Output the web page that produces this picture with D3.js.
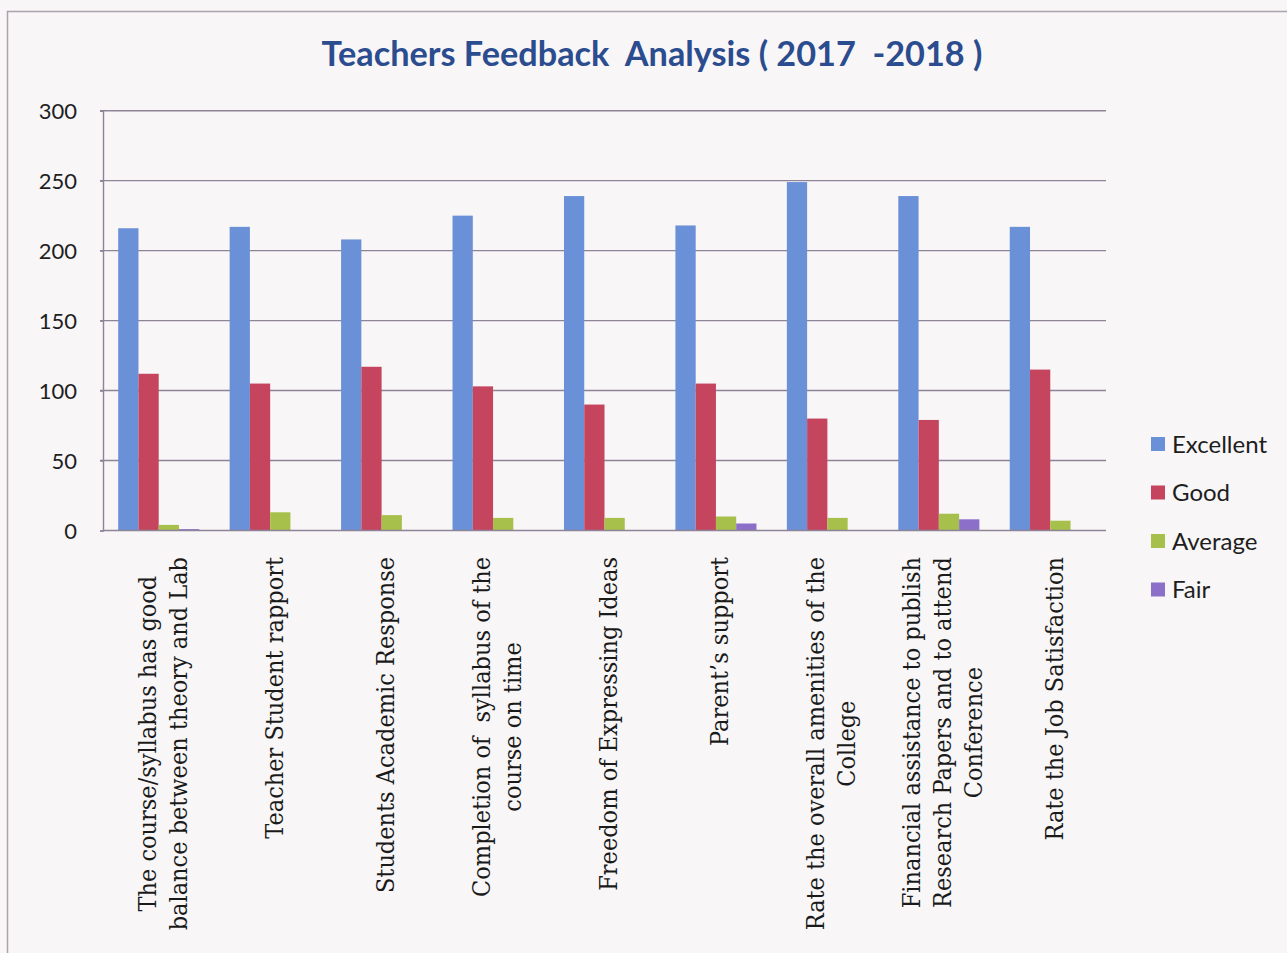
<!DOCTYPE html>
<html>
<head>
<meta charset="utf-8">
<script src="https://cdn.jsdelivr.net/npm/d3@7"></script>
<style>
  html, body { margin: 0; padding: 0; background: #f8f6f7; }
  svg { display: block; }
</style>
</head>
<body>
<svg id="chart" width="1287" height="953"></svg>
<script>
// ---- data ----
const title = "Teachers Feedback  Analysis ( 2017  -2018 )";
const categories = [
  "The course/syllabus has good\nbalance between theory and Lab",
  "Teacher Student rapport",
  "Students Academic Response",
  "Completion of  syllabus of the\ncourse on time",
  "Freedom of Expressing Ideas",
  "Parent\u2019s support",
  "Rate the overall amenities of the\nCollege",
  "Financial assistance to publish\nResearch Papers and to attend\nConference",
  "Rate the Job Satisfaction"
];
const seriesNames = ["Excellent", "Good", "Average", "Fair"];
const excellent = [216, 217, 208, 225, 239, 218, 249, 239, 217];
const good      = [112, 105, 117, 103, 90, 105, 80, 79, 115];
const average   = [4, 13, 11, 9, 9, 10, 9, 12, 7];
const fair      = [1, 0, 0, 0, 0, 5, 0, 8, 0];
const yTicks = [0, 50, 100, 150, 200, 250, 300];
const colors = ["#6a90d8", "#c5455f", "#a7c04b", "#8b6fc9"];

const seriesValues = [excellent, good, average, fair];

(function () {
// ---- layout ----
const svg = d3.select("#chart");
const pLeft = 103, pRight = 1106, pTop = 110.7, pBottom = 530.5;

// outer frame
svg.append("rect").attr("x", 7.5).attr("y", 11.5).attr("width", 1300).attr("height", 1000)
  .attr("fill", "none").attr("stroke", "#a9a3ab").attr("stroke-width", 1.5);

const x0 = d3.scaleBand().domain(d3.range(categories.length)).range([pLeft, pRight]).padding(0);
const barW = x0.bandwidth() / 5.5;
const x1 = d3.scaleBand().domain(seriesNames)
  .range([barW * 0.75, x0.bandwidth() - barW * 0.75]).padding(0);
const y = d3.scaleLinear().domain([0, 300]).range([pBottom, pTop]);

// gridlines
svg.append("g")
  .selectAll("line").data(yTicks.filter(d => d > 0)).join("line")
  .attr("x1", pLeft - 3).attr("x2", pRight)
  .attr("y1", d => y(d)).attr("y2", d => y(d))
  .attr("stroke", "#8d8597").attr("stroke-width", 1.4);

// bars
const groups = svg.append("g").selectAll("g").data(categories).join("g")
  .attr("transform", (d, i) => `translate(${x0(i)},0)`);
groups.selectAll("rect")
  .data((d, i) => seriesNames.map((s, k) => ({ s, k, v: seriesValues[k][i] })))
  .join("rect")
  .attr("x", d => x1(d.s))
  .attr("width", x1.bandwidth())
  .attr("y", d => y(d.v))
  .attr("height", d => y(0) - y(d.v))
  .attr("fill", d => colors[d.k]);

// y axis
const yAxis = d3.axisLeft(y).tickValues(yTicks).tickSize(3).tickPadding(24);
const ya = svg.append("g").attr("transform", `translate(${pLeft},0)`).call(yAxis);
ya.select(".domain").attr("stroke", "#8d8597").attr("stroke-width", 1.4);
ya.selectAll(".tick line").attr("stroke", "#8d8597").attr("stroke-width", 1.4);
ya.selectAll(".tick text")
  .attr("font-family", "Lato, 'Open Sans', sans-serif")
  .attr("font-size", 22).attr("fill", "#1e1e1e").attr("x", -26).attr("dy", "0.35em");

// x baseline
svg.append("line").attr("x1", pLeft).attr("x2", pRight).attr("y1", y(0)).attr("y2", y(0))
  .attr("stroke", "#8d8597").attr("stroke-width", 1.4);

// category labels (rotated)
const labelTop = 557, lineGap = 31;
categories.forEach((c, i) => {
  const lines = c.split("\n");
  const cx = x0(i) + x0.bandwidth() / 2 + 4;
  const g = svg.append("g").attr("transform", `translate(${cx},${labelTop}) rotate(-90)`);
  const texts = lines.map((ln, j) => g.append("text")
    .attr("font-family", "'DejaVu Serif Condensed', 'DejaVu Serif', serif")
    .attr("font-stretch", "condensed")
    .attr("font-size", 25)
    .attr("fill", "#1a1a1a")
    .style("white-space", "pre")
    .attr("text-anchor", "middle")
    .attr("dominant-baseline", "central")
    .attr("y", (j - (lines.length - 1) / 2) * lineGap)
    .text(ln));
  const W = d3.max(texts, t => t.node().getComputedTextLength());
  texts.forEach(t => t.attr("x", -W / 2));
});

// title
const tt = svg.append("text")
  .attr("x", 652).attr("y", 66)
  .attr("text-anchor", "middle")
  .attr("font-family", "Lato, 'Open Sans', sans-serif")
  .attr("font-weight", "bold")
  .attr("font-size", 30)
  .attr("fill", "#2b4c8e")
  .style("white-space", "pre")
  .text(title);
const tw = tt.node().getComputedTextLength();
tt.attr("font-size", 30 * 661 / tw);

// legend
const lg = svg.append("g").attr("transform", "translate(1151,0)");
seriesNames.forEach((s, k) => {
  const cy = 444 + k * 48.5;
  lg.append("rect").attr("x", 0).attr("y", cy - 7).attr("width", 14).attr("height", 14)
    .attr("fill", colors[k]);
  lg.append("text").attr("x", 21).attr("y", cy).attr("dy", "0.36em")
    .attr("font-family", "Lato, 'Open Sans', sans-serif")
    .attr("font-size", 24).attr("fill", "#1e1e1e").text(s);
});
})();
</script>
</body>
</html>
